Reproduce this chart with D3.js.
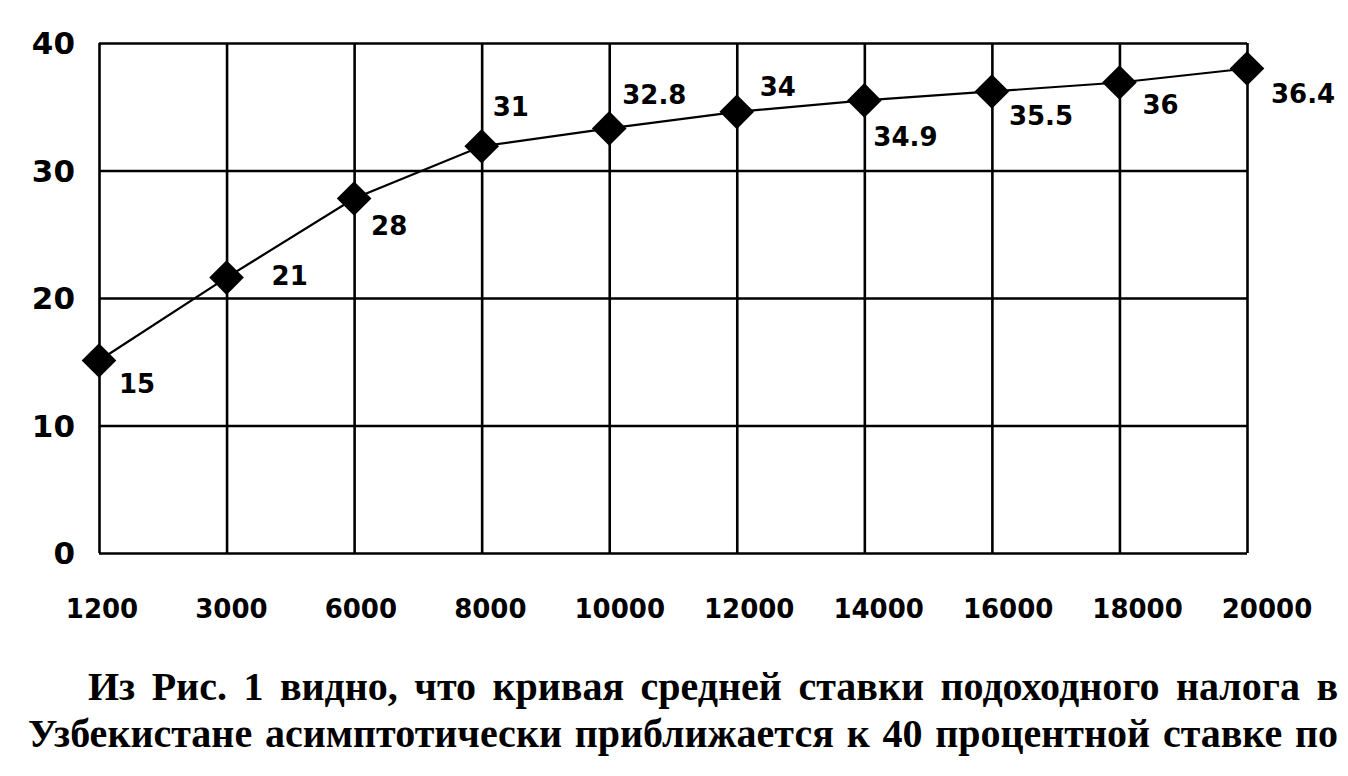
<!DOCTYPE html>
<html>
<head>
<meta charset="utf-8">
<script src="https://cdn.jsdelivr.net/npm/d3@7/dist/d3.min.js"></script>
<style>
  html, body { margin: 0; padding: 0; background: #fff; }
  svg { display: block; }
</style>
</head>
<body>
<svg id="chart" width="1348" height="776"></svg>
<script>
// ---- data ----
const categories = ["1200", "3000", "6000", "8000", "10000", "12000", "14000", "16000", "18000", "20000"];
// values as plotted
const plottedValues = [15.1, 21.6, 27.8, 31.9, 33.3, 34.6, 35.5, 36.2, 36.9, 38.0];
// values as printed next to the markers
const valueLabels = ["15", "21", "28", "31", "32.8", "34", "34.9", "35.5", "36", "36.4"];
const yTicks = [0, 10, 20, 30, 40];
const captionLines = [
  "Из Рис. 1 видно, что кривая средней ставки подоходного налога в",
  "Узбекистане асимптотически приближается к 40 процентной ставке по"
];

// ---- layout ----
const labelOffsets = [[20, 23], [45, -2], [17, 27], [11, -40], [13, -34], [23, -25], [9, 36], [17, 24], [23, 22], [24, 25]];
const plot = { left: 99, right: 1247, top: 43, bottom: 553 };
const svg = d3.select("#chart");
const boldSans = "'DejaVu Sans', sans-serif";

const x = d3.scalePoint().domain(categories).range([plot.left, plot.right]);
const xLab = d3.scalePoint().domain(categories).range([102, 1267]);
const y = d3.scaleLinear().domain([0, 40]).range([plot.bottom, plot.top]);

// horizontal gridlines
svg.append("g")
  .attr("transform", `translate(${plot.left},0)`)
  .call(d3.axisLeft(y).tickValues(yTicks).tickSize(-(plot.right - plot.left)).tickFormat(""))
  .call(g => g.select(".domain").remove())
  .call(g => g.selectAll(".tick line").attr("stroke", "#000").attr("stroke-width", 2.6));

// vertical gridlines
svg.append("g")
  .attr("transform", `translate(0,${plot.bottom})`)
  .call(d3.axisBottom(x).tickSize(-(plot.bottom - plot.top)).tickFormat(""))
  .call(g => g.select(".domain").remove())
  .call(g => g.selectAll(".tick line").attr("stroke", "#000").attr("stroke-width", 2.6));

// y tick labels
svg.append("g").selectAll("text").data(yTicks).join("text")
  .attr("x", 75).attr("y", d => y(d)).attr("dy", "0.36em")
  .attr("text-anchor", "end")
  .attr("font-family", boldSans).attr("font-weight", "bold").attr("font-size", 31)
  .text(d => d);

// x tick labels
svg.append("g").selectAll("text").data(categories).join("text")
  .attr("x", d => xLab(d)).attr("y", 609).attr("dy", "0.36em")
  .attr("text-anchor", "middle")
  .attr("font-family", boldSans).attr("font-weight", "bold").attr("font-size", 26)
  .text(d => d);

// line
const pts = categories.map((c, i) => [x(c), y(plottedValues[i])]);
svg.append("path")
  .attr("d", d3.line()(pts))
  .attr("fill", "none").attr("stroke", "#000").attr("stroke-width", 2.2);

// diamond markers (square rotated 45deg)
svg.append("g").selectAll("path").data(pts).join("path")
  .attr("transform", d => `translate(${d[0]},${d[1]}) rotate(45)`)
  .attr("d", d3.symbol(d3.symbolSquare, 600)())
  .attr("fill", "#000");

// value labels
svg.append("g").selectAll("text").data(pts).join("text")
  .attr("x", (d, i) => d[0] + labelOffsets[i][0])
  .attr("y", (d, i) => d[1] + labelOffsets[i][1])
  .attr("dy", "0.36em")
  .attr("font-family", boldSans).attr("font-weight", "bold").attr("font-size", 26)
  .text((d, i) => valueLabels[i]);

// caption, justified
const capLines = [
  { left: 88, right: 1338, baseline: 700 },
  { left: 28, right: 1338, baseline: 733 + 14 }
];
captionLines.forEach((line, li) => {
  const words = line.split(" ");
  const g = svg.append("g");
  const nodes = words.map(w => g.append("text")
    .attr("font-family", "'Liberation Serif', 'Times New Roman', serif")
    .attr("font-weight", "bold")
    .attr("font-size", 40)
    .attr("y", capLines[li].baseline)
    .text(w));
  const widths = nodes.map(n => n.node().getComputedTextLength());
  const total = d3.sum(widths);
  const gap = (capLines[li].right - capLines[li].left - total) / (words.length - 1);
  let cx = capLines[li].left;
  nodes.forEach((n, i) => { n.attr("x", cx); cx += widths[i] + gap; });
});
</script>
</body>
</html>
